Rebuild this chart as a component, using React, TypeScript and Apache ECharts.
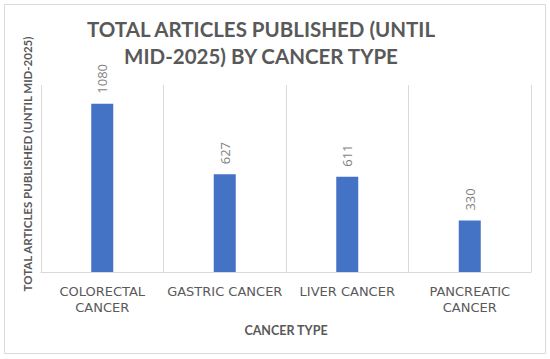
import React, { useEffect, useRef } from "react";
import * as echarts from "echarts";

const categories = ["COLORECTAL CANCER", "GASTRIC CANCER", "LIVER CANCER", "PANCREATIC CANCER"];
const articles = [1080, 627, 611, 330];
const titleLines = ["TOTAL ARTICLES PUBLISHED (UNTIL", "MID-2025) BY CANCER TYPE"];
const yAxisTitle = "TOTAL ARTICLES PUBLISHED (UNTIL MID-2025)";
const xAxisTitle = "CANCER TYPE";

export default function App() {
  const ref = useRef<HTMLDivElement>(null);
  useEffect(() => {
    if (!ref.current) return;
    const chart = echarts.init(ref.current, null, { renderer: "svg" });
    const gray = "#595959";
    chart.setOption({
      animation: false,
      backgroundColor: "#ffffff",
      title: {
        text: titleLines.join("\n"),
        left: 261,
        top: 15,
        padding: 0,
        textAlign: "center",
        textStyle: {
          fontFamily: "Lato",
          fontWeight: "bold",
          fontSize: 20.5,
          lineHeight: 27,
          color: gray,
        },
      },
      graphic: [
        {
          type: "rect",
          shape: { x: 4.5, y: 4.5, width: 541, height: 349 },
          style: { fill: "none", stroke: "#d9d9d9", lineWidth: 1 },
          silent: true,
          z: -1,
        },
        {
          type: "text",
          x: 27,
          y: 164,
          rotation: Math.PI / 2,
          silent: true,
          style: {
            text: yAxisTitle,
            align: "center",
            verticalAlign: "middle",
            fontFamily: "Lato",
            fontWeight: "bold",
            fontSize: 11.5,
            fill: gray,
          },
        },
      ],
      grid: { left: 41, right: 19, top: 85, bottom: 87 },
      xAxis: {
        type: "category",
        data: categories,
        name: xAxisTitle,
        nameLocation: "middle",
        nameGap: 52,
        nameTextStyle: { fontFamily: "Lato", fontWeight: "bold", fontSize: 12.5, color: gray },
        axisLine: { show: true, lineStyle: { color: "#d9d9d9" } },
        axisTick: { show: false },
        splitLine: { show: true, lineStyle: { color: "#d9d9d9" } },
        axisLabel: {
          interval: 0,
          margin: 11,
          formatter: (v: string) => (v.length > 15 ? v.replace(" ", "\n") : v),
          fontFamily: "DejaVu Sans",
          fontSize: 13,
          lineHeight: 16,
          color: gray,
        },
      },
      yAxis: {
        type: "value",
        min: 0,
        max: 1200,
        axisLine: { show: false },
        axisTick: { show: false },
        axisLabel: { show: false },
        splitLine: { show: false },
      },
      series: [
        {
          type: "bar",
          data: articles,
          barWidth: 22,
          itemStyle: { color: "#4472c4" },
          label: {
            show: true,
            position: "top",
            rotate: 90,
            distance: 10,
            align: "left",
            verticalAlign: "middle",
            fontFamily: "Open Sans",
            fontSize: 13,
            color: "#7f7f7f",
          },
        },
      ],
    });
    return () => chart.dispose();
  }, []);
  return (
    <div
      ref={ref}
      style={{ position: "absolute", left: 0, top: 0, width: 550, height: 359 }}
    />
  );
}
